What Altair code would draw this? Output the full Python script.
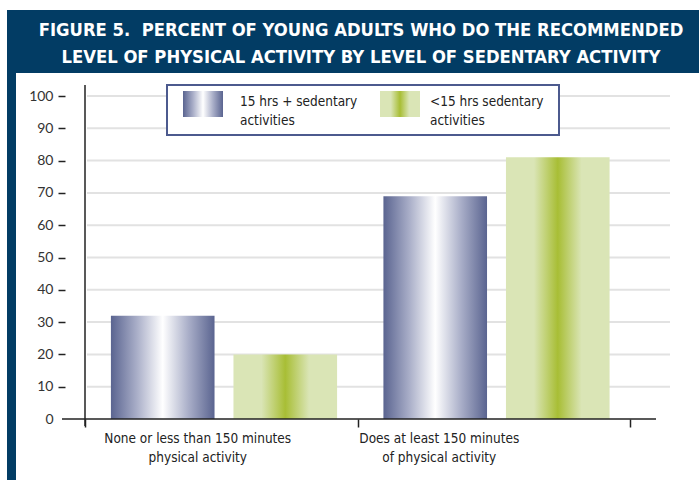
import altair as alt
import pandas as pd

# ---- data ----
categories = [
    "None or less than 150 minutes\nphysical activity",
    "Does at least 150 minutes\nof physical activity",
]
series = ["15 hrs + sedentary activities", "<15 hrs sedentary activities"]
values_15plus = [32, 69]
values_under15 = [20, 81]
y_ticks = [0, 10, 20, 30, 40, 50, 60, 70, 80, 90, 100]
title_lines = [
    "FIGURE 5.\u00a0 PERCENT OF YOUNG ADULTS WHO DO THE RECOMMENDED",
    "LEVEL OF PHYSICAL ACTIVITY BY LEVEL OF SEDENTARY ACTIVITY",
]
legend_texts = [["15 hrs + sedentary", "activities"], ["<15 hrs sedentary", "activities"]]

rows = []
for c, a, b in zip(categories, values_15plus, values_under15):
    rows.append({"cat": c, "series": series[0], "value": a})
    rows.append({"cat": c, "series": series[1], "value": b})
df = pd.DataFrame(rows)
grid_df = pd.DataFrame({"value": [t for t in y_ticks if t > 0]})
one = pd.DataFrame({"a": [0]})

W, H = 585, 323
NAVY = "#023c64"
NARROW = "DejaVu Sans Condensed, sans-serif"

blue_grad = alt.LinearGradient(
    gradient="linear", x1=0, x2=1, y1=0, y2=0,
    stops=[
        alt.GradientStop(color="#5a6490", offset=0),
        alt.GradientStop(color="#a9aec8", offset=0.25),
        alt.GradientStop(color="#ffffff", offset=0.5),
        alt.GradientStop(color="#a9aec8", offset=0.75),
        alt.GradientStop(color="#5a6490", offset=1),
    ],
)
green_grad = alt.LinearGradient(
    gradient="linear", x1=0, x2=1, y1=0, y2=0,
    stops=[
        alt.GradientStop(color="#dae5b6", offset=0),
        alt.GradientStop(color="#dae5b6", offset=0.27),
        alt.GradientStop(color="#a8be35", offset=0.5),
        alt.GradientStop(color="#dae5b6", offset=0.73),
        alt.GradientStop(color="#dae5b6", offset=1),
    ],
)

yscale = alt.Scale(domain=[0, 100], nice=False, zero=True)
xscale = alt.Scale(domain=categories, range=[0, 545], paddingInner=0, paddingOuter=0)
xoscale = alt.Scale(domain=series, range=[3, 275], paddingInner=0.1545, paddingOuter=0.187)

xaxis = alt.Axis(
    title=None, domain=False, tickBand="extent", tickSize=8, tickColor="#222",
    tickWidth=1.5, labelAngle=0, labelFont=NARROW, labelFontSize=13.5,
    labelColor="#222", labelPadding=4, labelLineHeight=19, labelLimit=400,
    labelExpr="split(datum.label, '\\n')",
    labelOffset={"condition": {"test": "isString(datum.value) && indexof(datum.value, 'None') == 0", "value": -24}, "value": -55},
    zindex=1,
)
yaxis = alt.Axis(
    title=None, domain=False, offset=20, values=y_ticks, tickSize=7,
    tickColor="#222", tickWidth=1.5, labelFont="Lato, sans-serif", labelFontSize=14,
    labelColor="#333", labelPadding=5, grid=False, zindex=1, labelOverlap=False,
    tickOpacity={"condition": {"test": "datum.value == 0", "value": 0}, "value": 1},
)
Y = alt.Y("value:Q", scale=yscale, axis=yaxis, title=None)

frame_blue = alt.Chart(one).mark_rect(color=NAVY).encode(
    x=alt.value(-78), x2=alt.value(W + 40), y=alt.value(-86), y2=alt.value(H + 70)
)
frame_white = alt.Chart(one).mark_rect(color="white").encode(
    x=alt.value(-69), x2=alt.value(W + 40), y=alt.value(-23), y2=alt.value(H + 70)
)

grid = alt.Chart(grid_df).mark_rule(color="#e2e2e2", strokeWidth=2).encode(
    y=Y, x=alt.value(2), x2=alt.value(W)
)

bars_blue = alt.Chart(df).transform_filter(alt.datum.series == series[0]).mark_bar(color=blue_grad).encode(
    x=alt.X("cat:N", scale=xscale, axis=xaxis, sort=categories),
    xOffset=alt.XOffset("series:N", scale=xoscale, sort=series),
    y=Y,
)
bars_green = alt.Chart(df).transform_filter(alt.datum.series == series[1]).mark_bar(color=green_grad).encode(
    x=alt.X("cat:N", scale=xscale, axis=xaxis, sort=categories),
    xOffset=alt.XOffset("series:N", scale=xoscale, sort=series),
    y=Y,
)

baseline = alt.Chart(one).mark_rule(color="#222", strokeWidth=1.5).encode(
    x=alt.value(-23), x2=alt.value(571), y=alt.value(H), y2=alt.value(H)
)
vline = alt.Chart(one).mark_rule(color="#222", strokeWidth=1.5).encode(
    x=alt.value(0), x2=alt.value(0), y=alt.value(-11), y2=alt.value(H + 7)
)

leg_box = alt.Chart(one).mark_rect(fill="white", stroke="#4c5a8e", strokeWidth=2).encode(
    x=alt.value(82), x2=alt.value(474), y=alt.value(-11), y2=alt.value(39)
)
leg_sw1 = alt.Chart(one).mark_rect(color=blue_grad).encode(
    x=alt.value(98), x2=alt.value(138), y=alt.value(-5), y2=alt.value(21)
)
leg_sw2 = alt.Chart(one).mark_rect(color=green_grad).encode(
    x=alt.value(295), x2=alt.value(335), y=alt.value(-5), y2=alt.value(21)
)
leg_t1 = alt.Chart(one).mark_text(
    text=legend_texts[0], align="left", baseline="alphabetic", font=NARROW,
    fontSize=13.5, color="#222", lineHeight=19
).encode(x=alt.value(155), y=alt.value(10))
leg_t2 = alt.Chart(one).mark_text(
    text=legend_texts[1], align="left", baseline="alphabetic", font=NARROW,
    fontSize=13.5, color="#222", lineHeight=19
).encode(x=alt.value(345), y=alt.value(10))

t1 = alt.Chart(one).mark_text(
    text=title_lines[0], align="center", baseline="alphabetic",
    font="DejaVu Sans Condensed", fontWeight="bold", fontSize=18.3, color="white"
).encode(x=alt.value(276), y=alt.value(36 - 96))
t2 = alt.Chart(one).mark_text(
    text=title_lines[1], align="center", baseline="alphabetic",
    font="DejaVu Sans Condensed", fontWeight="bold", fontSize=18.3, color="white"
).encode(x=alt.value(276), y=alt.value(63 - 96))

chart = alt.layer(
    frame_blue, frame_white, grid, bars_blue, bars_green, baseline, vline,
    leg_box, leg_sw1, leg_sw2, leg_t1, leg_t2, t1, t2
).properties(
    width=W, height=H,
    autosize=alt.AutoSizeParams(type="none"),
    padding={"left": 85, "top": 96, "right": 29, "bottom": 61},
    background="white",
).configure_view(strokeWidth=0)

chart.save("out.html", embed_options={"renderer": "svg", "actions": False})
